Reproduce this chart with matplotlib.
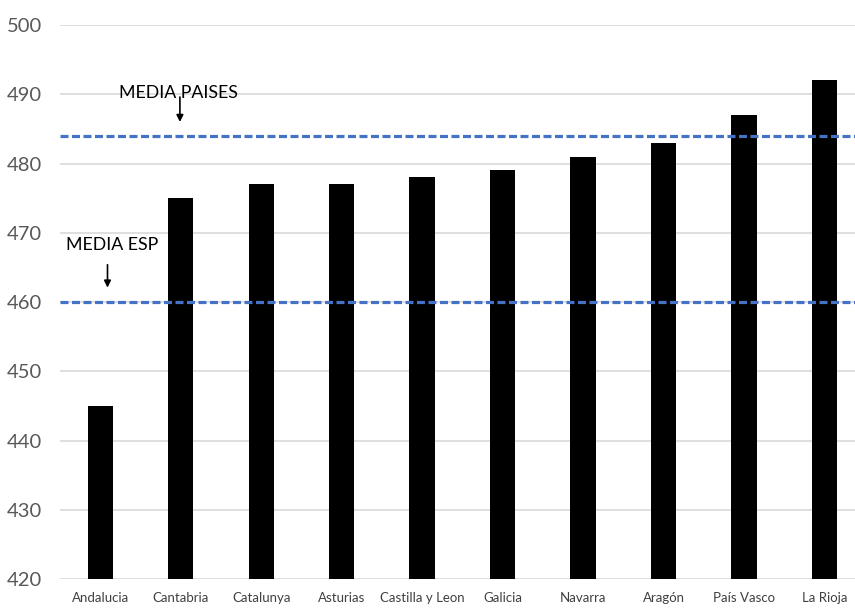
import matplotlib
matplotlib.use("Agg")
import matplotlib.pyplot as plt

plt.rcParams['font.family'] = ['Lato', 'DejaVu Sans']

# Data
regiones = ["Andalucia", "Cantabria", "Catalunya", "Asturias", "Castilla y Leon",
            "Galicia", "Navarra", "Aragón", "País Vasco", "La Rioja"]
puntos = [445, 475, 477, 477, 478, 479, 481, 483, 487, 492]
media_paises = 484
media_esp = 460
yticks = [420, 430, 440, 450, 460, 470, 480, 490, 500]

fig = plt.figure(figsize=(8.55, 6.08), dpi=100)
ax = fig.add_axes([0.0702, 0.047, 0.9298, 0.912])

ax.bar(range(len(regiones)), puntos, width=0.315, color="black", zorder=3)

ax.axhline(media_paises, color="#4472C4", lw=2.3, ls=(0, (2.5, 1.1)), zorder=4)
ax.axhline(media_esp, color="#4472C4", lw=2.3, ls=(0, (2.5, 1.1)), zorder=4)

ax.set_ylim(420, 500)
ax.set_xlim(-0.5, 9.38)
ax.set_yticks(yticks)
ax.yaxis.grid(True, color="#D9D9D9", lw=1.2, zorder=0)
ax.set_xticks(range(len(regiones)))
ax.set_xticklabels(regiones, fontsize=9.5, color="#404040")
ax.tick_params(axis="y", labelsize=14.5, colors="#595959", length=0, pad=13)
ax.tick_params(axis="x", length=0, pad=9)
for s in ax.spines.values():
    s.set_visible(False)

# Annotations
ax.annotate("", xy=(0.99, 485.6), xytext=(0.99, 490.0),
            arrowprops=dict(arrowstyle="-|>", color="black", lw=1.2, mutation_scale=10))
ax.text(0.975, 489.5, "MEDIA PAISES", ha="center", va="baseline", fontsize=12.8, color="black")
ax.annotate("", xy=(0.09, 461.7), xytext=(0.09, 465.8),
            arrowprops=dict(arrowstyle="-|>", color="black", lw=1.2, mutation_scale=10))
ax.text(0.145, 467.5, "MEDIA ESP", ha="center", va="baseline", fontsize=12.8, color="black")

fig.savefig("out.png", dpi=100)
